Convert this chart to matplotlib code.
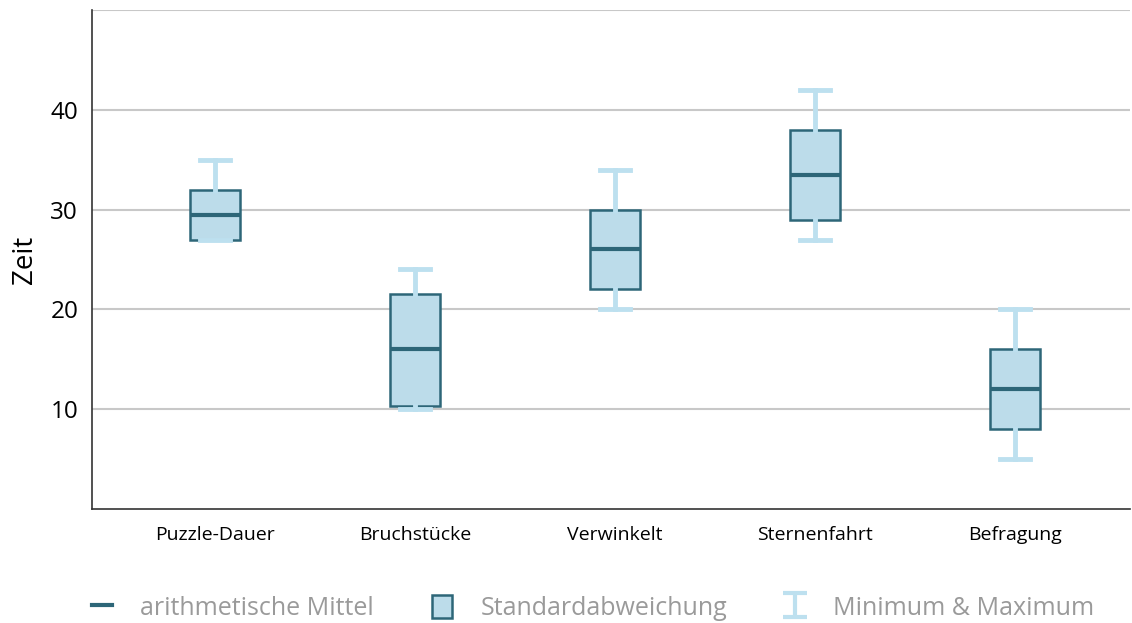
import matplotlib.pyplot as plt
from matplotlib.lines import Line2D
from matplotlib.patches import Patch
from matplotlib.path import Path

plt.rcParams['font.family'] = ['Open Sans', 'DejaVu Sans']

categories = ['Puzzle-Dauer', 'Bruchstücke', 'Verwinkelt', 'Sternenfahrt', 'Befragung']
mittel = [29.5, 16, 26, 33.5, 12]
sd_low = [27, 10.3, 22, 29, 8]
sd_high = [32, 21.5, 30, 38, 16]
minimum = [27, 10, 20, 27, 5]
maximum = [35, 24, 34, 42, 20]

dark = '#2d6678'
fill = '#bcdcea'
light = '#bde0ef'
grid = '#c8c8c8'
legend_gray = '#9a9a9a'

stats = []
for i, name in enumerate(categories):
    stats.append(dict(label=name, med=mittel[i], q1=sd_low[i], q3=sd_high[i],
                      whislo=minimum[i], whishi=maximum[i], fliers=[]))

fig = plt.figure(figsize=(11.32, 6.23), dpi=100)
ax = fig.add_axes([0.0813, 0.183, 0.917, 0.801])

ax.bxp(stats, positions=range(len(categories)), widths=0.25, patch_artist=True,
       showfliers=False,
       boxprops=dict(facecolor=fill, edgecolor=dark, linewidth=1.8),
       medianprops=dict(color=dark, linewidth=3),
       whiskerprops=dict(color=light, linewidth=3.5),
       capprops=dict(color=light, linewidth=3.5),
       capwidths=0.15, zorder=3)

ax.set_ylim(0, 50)
ax.set_xlim(-0.615, 4.575)
ax.set_yticks([10, 20, 30, 40, 50])
ax.set_yticklabels(['10', '20', '30', '40', ''])
ax.yaxis.grid(True, color=grid, linewidth=1.5)
ax.set_axisbelow(True)
ax.tick_params(axis='y', length=0, labelsize=17.5, pad=10)
ax.tick_params(axis='x', length=0, labelsize=14, pad=12)
ax.set_ylabel('Zeit', fontsize=20, labelpad=8)
for s in ['top', 'right']:
    ax.spines[s].set_visible(False)
for s in ['left', 'bottom']:
    ax.spines[s].set_color('#333333')
    ax.spines[s].set_linewidth(1.2)

i_marker = Path([(-1, 1), (1, 1), (0, 1), (0, -1), (-1, -1), (1, -1)],
                [Path.MOVETO, Path.LINETO, Path.MOVETO, Path.LINETO, Path.MOVETO, Path.LINETO])
handles = [
    Line2D([], [], color=dark, linewidth=3),
    Patch(facecolor=fill, edgecolor=dark, linewidth=1.8),
    Line2D([], [], linestyle='none', marker=i_marker, markersize=17,
           markeredgecolor=light, markerfacecolor='none', markeredgewidth=3),
]
labels = ['arithmetische Mittel', 'Standardabweichung', 'Minimum & Maximum']
leg = fig.legend(handles, labels, loc='center', bbox_to_anchor=(0.524, 0.024), ncol=3,
                 frameon=False, fontsize=18, handlelength=0.8, handleheight=1.0,
                 handletextpad=1.15, columnspacing=2.3)
for t in leg.get_texts():
    t.set_color(legend_gray)

fig.savefig('out.png', dpi=100)
